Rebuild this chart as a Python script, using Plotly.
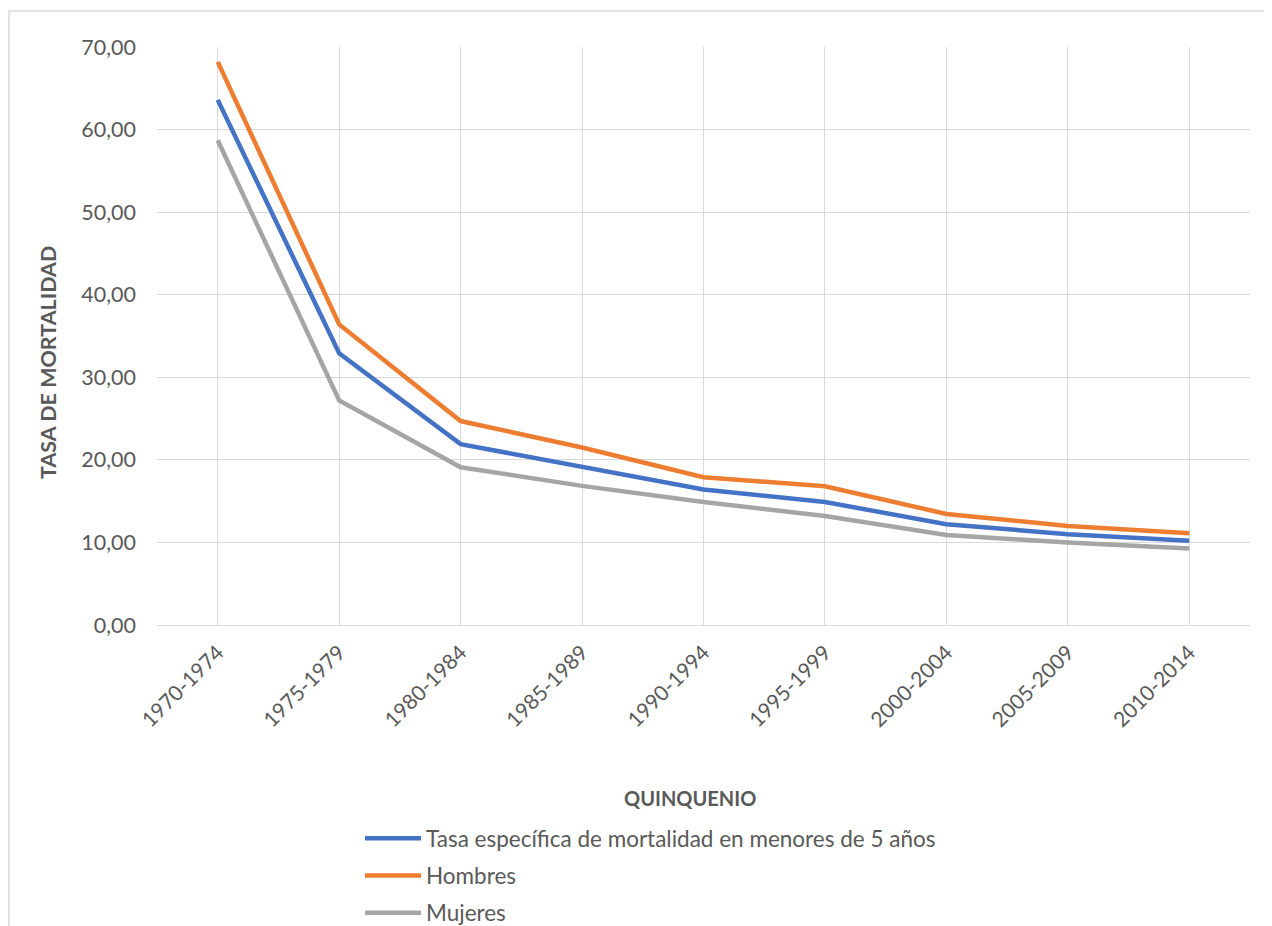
import plotly.graph_objects as go

quinquenios = ["1970-1974", "1975-1979", "1980-1984", "1985-1989", "1990-1994",
               "1995-1999", "2000-2004", "2005-2009", "2010-2014"]
tasa_total = [63.6, 32.9, 21.9, 19.2, 16.4, 14.9, 12.2, 11.0, 10.2]
hombres = [68.2, 36.4, 24.7, 21.5, 17.9, 16.8, 13.45, 12.0, 11.1]
mujeres = [58.7, 27.2, 19.1, 16.85, 14.9, 13.2, 10.9, 10.0, 9.25]

series_names = ["Tasa específica de mortalidad en menores de 5 años", "Hombres", "Mujeres"]
series_values = [tasa_total, hombres, mujeres]
series_colors = ["#4472C4", "#ED7D31", "#A5A5A5"]

y_ticks = [0, 10, 20, 30, 40, 50, 60, 70]

FONT = "Lato, 'Open Sans', sans-serif"
TXT = "#595959"
GRID = "#D9D9D9"

fig = go.Figure()
for i, (name, vals, col) in enumerate(zip(series_names, series_values, series_colors)):
    fig.add_trace(go.Scatter(
        x=quinquenios, y=vals, name=name, mode="lines",
        line=dict(color=col, width=4.5),
        legendgroup=f"g{i}", hoverinfo="skip",
    ))

W, H = 1264, 918
L, R, T, B = 149, 22, 39, 301
pw, ph = W - L - R, H - T - B

def px(fx):
    return (fx - L) / pw

def py(fy):
    return (H - B - fy) / ph

fig.update_layout(
    width=W, height=H,
    margin=dict(l=L, r=R, t=T, b=B, autoexpand=False),
    paper_bgcolor="white", plot_bgcolor="white",
    separators=",.",
    font=dict(family=FONT, color=TXT, size=21),
    showlegend=True,
    legend=dict(
        x=px(352), y=py(809), xanchor="left", yanchor="top",
        orientation="v", font=dict(size=22.5, color=TXT, family=FONT),
        tracegroupgap=5, itemwidth=56, bgcolor="rgba(0,0,0,0)",
    ),
    xaxis=dict(
        type="category", range=[-0.5, len(quinquenios) - 0.5],
        showgrid=True, gridcolor=GRID, gridwidth=1,
        showline=True, linecolor=GRID, linewidth=1,
        ticks="", tickangle=-45, tickfont=dict(size=21, color=TXT, family=FONT),
        ticklabelstandoff=6, zeroline=False, automargin=False,
    ),
    yaxis=dict(
        range=[0, 70], tickvals=y_ticks, tickformat=".2f",
        showgrid=True, gridcolor=GRID, gridwidth=1,
        showline=False, zeroline=False, ticks="",
        tickfont=dict(size=21.5, color=TXT, family=FONT),
        ticklabelstandoff=20, automargin=False,
    ),
    annotations=[
        dict(text="<b>TASA DE MORTALIDAD</b>", xref="paper", yref="paper",
             x=px(40), y=py(355), textangle=-90, showarrow=False,
             xanchor="center", yanchor="middle",
             font=dict(size=21.5, color=TXT, family=FONT)),
        dict(text="<b>QUINQUENIO</b>", xref="paper", yref="paper",
             x=px(682), y=py(790), showarrow=False,
             xanchor="center", yanchor="middle",
             font=dict(size=20, color=TXT, family=FONT)),
    ],
    shapes=[
        dict(type="line", xref="paper", yref="paper", x0=px(1), x1=px(W + 20),
             y0=py(3), y1=py(3), line=dict(color=GRID, width=1.5)),
        dict(type="line", xref="paper", yref="paper", x0=px(1), x1=px(1),
             y0=py(3), y1=py(H + 20), line=dict(color=GRID, width=1.5)),
    ],
)

fig.write_html("out.html")
